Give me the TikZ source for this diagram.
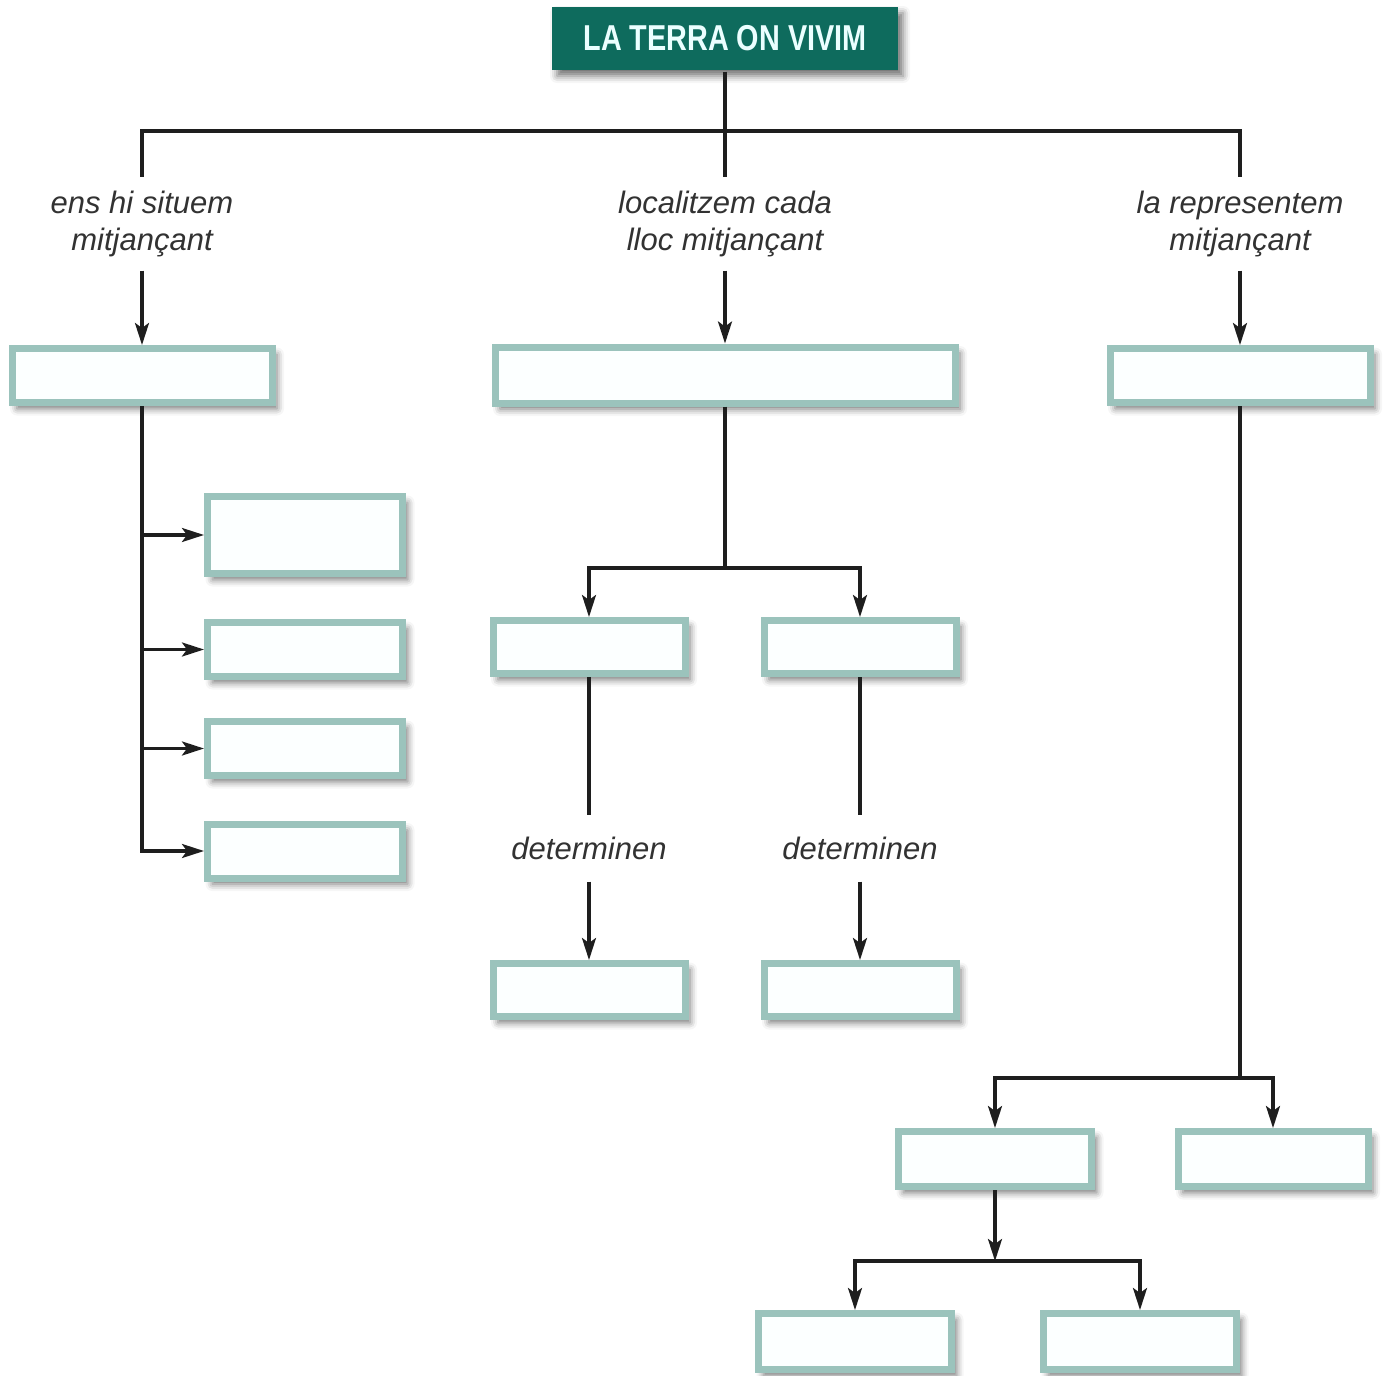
\documentclass[tikz,border=0pt]{standalone}
\usepackage{fontspec}
\setmainfont{Liberation Sans}
\newfontface\titlefont{Liberation Sans Bold}[FakeStretch=0.8]
\usetikzlibrary{arrows.meta,shadows.blur}
\definecolor{boxline}{RGB}{155,195,188}
\definecolor{boxfill}{RGB}{252,255,255}
\definecolor{titlefill}{RGB}{14,107,93}
\definecolor{titletext}{RGB}{235,255,255}
\definecolor{labelgray}{RGB}{50,50,50}
\definecolor{linkline}{RGB}{30,30,30}
\begin{document}
\begin{tikzpicture}[x=0.5pt, y=-0.5pt, line width=1.6pt,
    >={Stealth[length=11pt, width=7pt, inset=2.5pt]},
    mapshadow/.style={blur shadow={shadow xshift=2.5pt, shadow yshift=-3pt, shadow blur radius=3.5pt, shadow opacity=55}},
    title/.style={fill=titlefill, text=titletext, font=\titlefont\fontsize{18}{20}\selectfont,
      minimum width=173pt, minimum height=31.5pt, mapshadow},
    blank/.style={draw=boxline, line width=3.5pt, fill=boxfill, minimum width=#1, minimum height=27pt, mapshadow},
    link/.style={text=labelgray, font=\itshape\fontsize{15.5}{18.5}\selectfont, align=center, minimum height=45pt},
    det/.style={link, minimum height=31.5pt}]
    \useasboundingbox (0,0) rectangle (1388,1376);
    \node(T) [title] at (725,38.5) {LA TERRA ON VIVIM};
    \node(lA) [link] at (142,224) {ens hi situem\\mitjançant};
    \node(lB) [link] at (725,224) {localitzem cada\\lloc mitjançant};
    \node(lC) [link] at (1240,224) {la representem\\mitjançant};
    \node(A) [blank=130pt] at (142,375.5) {};
    \node(B) [blank=230pt, minimum height=28pt] at (725,375) {};
    \node(C) [blank=130pt] at (1240,375.5) {};
    % left branch
    \node(A1) [blank=97.5pt, minimum height=38.5pt] at (305,535) {};
    \node(A2) [blank=97.5pt] at (305,649.5) {};
    \node(A3) [blank=97.5pt] at (305,748.5) {};
    \node(A4) [blank=97.5pt] at (305,851) {};
    % middle branch
    \node(B1) [blank=96pt, minimum height=26.5pt] at (589,647) {};
    \node(B2) [blank=96pt, minimum height=26.5pt] at (860,647) {};
    \node(dB1) [det] at (589,848.5) {determinen};
    \node(dB2) [det] at (860,848.5) {determinen};
    \node(B11) [blank=96pt, minimum height=26.5pt] at (589,990) {};
    \node(B21) [blank=96pt, minimum height=26.5pt] at (860,990) {};
    % right branch
    \node(C1) [blank=96.5pt, minimum height=27.5pt] at (995,1159) {};
    \node(C2) [blank=95pt, minimum height=27.5pt] at (1273,1159) {};
    \node(C11) [blank=96.5pt, minimum height=28pt] at (855,1341.5) {};
    \node(C12) [blank=96.5pt, minimum height=28pt] at (1140,1341.5) {};
    \coordinate(t0) at (725,131);
    \coordinate(b0) at (725,568);
    \coordinate(c0) at (1240,1078);
    \coordinate(c1) at (995,1261);
    \draw[linkline](T) -- (t0);
    \draw[linkline](t0) -| (lA);
    \draw[linkline](t0) -- (lB);
    \draw[linkline](t0) -| (lC);
    \draw[linkline, ->](lA) -- (A);
    \draw[linkline, ->](lB) -- (B);
    \draw[linkline, ->](lC) -- (C);
    \draw[linkline, ->](A) |- (A1);
    \draw[linkline, ->](A) |- (A2);
    \draw[linkline, ->](A) |- (A3);
    \draw[linkline, ->](A) |- (A4);
    \draw[linkline](B) -- (b0);
    \draw[linkline, ->](b0) -| (B1);
    \draw[linkline, ->](b0) -| (B2);
    \draw[linkline](B1) -- (dB1);
    \draw[linkline](B2) -- (dB2);
    \draw[linkline, ->](dB1) -- (B11);
    \draw[linkline, ->](dB2) -- (B21);
    \draw[linkline](C) -- (c0);
    \draw[linkline, ->](c0) -| (C1);
    \draw[linkline, ->](c0) -| (C2);
    \draw[linkline, ->](C1) -- (c1);
    \draw[linkline, ->](c1) -| (C11);
    \draw[linkline, ->](c1) -| (C12);
\end{tikzpicture}
\end{document}
